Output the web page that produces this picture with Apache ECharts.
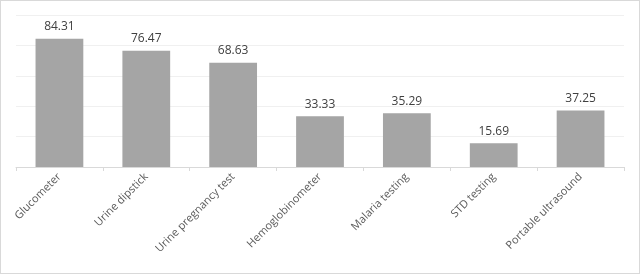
<!DOCTYPE html>
<html>
<head>
<meta charset="utf-8">
<script src="https://cdn.jsdelivr.net/npm/echarts@6/dist/echarts.min.js"></script>
<style>
  * { margin: 0; padding: 0; }
  html, body { width: 640px; height: 274px; background: #fff; }
  #chart {
    width: 640px;
    height: 274px;
    box-sizing: border-box;
    border: 1px solid #d9d9d9;
  }
</style>
</head>
<body>
<div id="chart"></div>
<script>
// data
const categories = ['Glucometer', 'Urine dipstick', 'Urine pregnancy test', 'Hemoglobinometer', 'Malaria testing', 'STD testing', 'Portable ultrasound'];
const values = [84.31, 76.47, 68.63, 33.33, 35.29, 15.69, 37.25];

const chart = echarts.init(document.getElementById('chart'));

const option = {
  animation: false,
  grid: {
    left: 15,
    right: 15,
    top: 14,
    bottom: 106
  },
  xAxis: {
    type: 'category',
    data: categories,
    axisLine: { lineStyle: { color: '#d9d9d9', width: 1 } },
    axisTick: { show: true, length: 4, lineStyle: { color: '#d9d9d9' } },
    axisLabel: {
      rotate: 45,
      interval: 0,
      margin: 8,
      color: '#595959',
      fontFamily: 'Open Sans',
      fontSize: 11
    }
  },
  yAxis: {
    type: 'value',
    min: 0,
    max: 100,
    interval: 20,
    axisLabel: { show: false },
    axisLine: { show: false },
    axisTick: { show: false },
    splitLine: { lineStyle: { color: '#f0f0f0', width: 1 } }
  },
  series: [
    {
      type: 'bar',
      data: values,
      barCategoryGap: '45%',
      itemStyle: { color: '#a5a5a5' },
      label: {
        show: true,
        position: 'top',
        distance: 6,
        color: '#404040',
        fontFamily: 'Open Sans',
        fontSize: 12,
        formatter: p => p.value.toFixed(2)
      }
    }
  ]
};

chart.setOption(option);
</script>
</body>
</html>
